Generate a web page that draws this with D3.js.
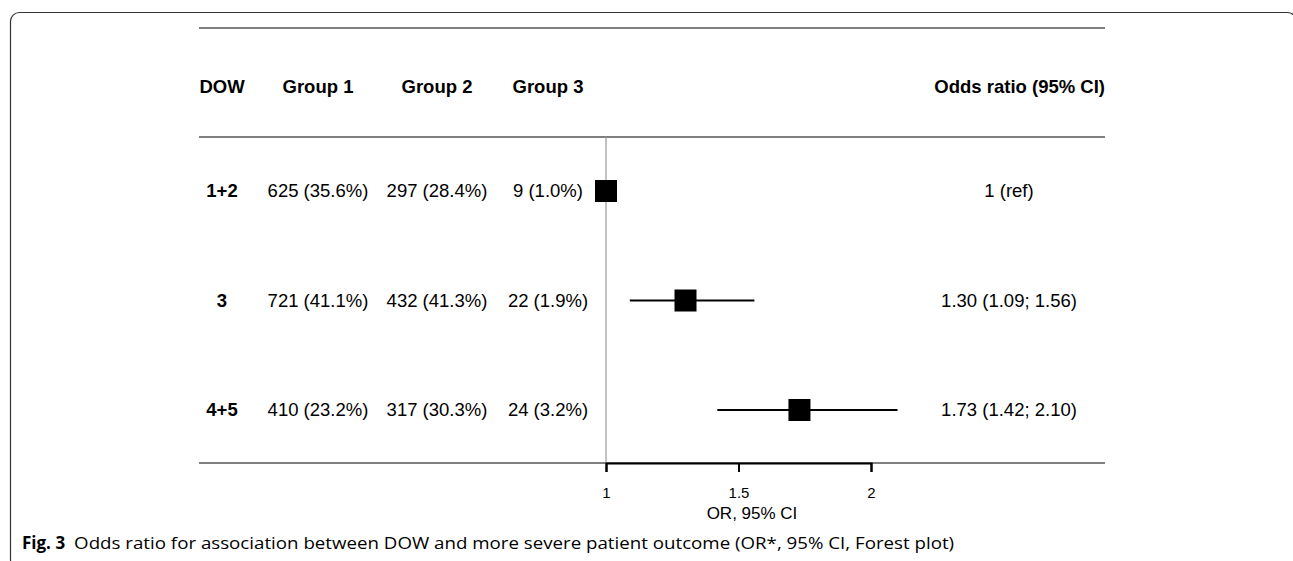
<!DOCTYPE html>
<html>
<head>
<meta charset="utf-8">
<script src="https://cdn.jsdelivr.net/npm/d3@7"></script>
<style>
  body { margin: 0; background: #fff; }
  svg { display: block; }
</style>
</head>
<body>
<svg id="chart" width="1293" height="561"></svg>
<script>
// data
let headers = ["DOW", "Group 1", "Group 2", "Group 3"];
let dow = ["1+2", "3", "4+5"];
let group1 = ["625 (35.6%)", "721 (41.1%)", "410 (23.2%)"];
let group2 = ["297 (28.4%)", "432 (41.3%)", "317 (30.3%)"];
let group3 = ["9 (1.0%)", "22 (1.9%)", "24 (3.2%)"];
let or = [1, 1.30, 1.73];
let lower = [null, 1.09, 1.42];
let upper = [null, 1.56, 2.10];
let orLabels = ["1 (ref)", "1.30 (1.09; 1.56)", "1.73 (1.42; 2.10)"];
let ticks = [1, 1.5, 2];

let svg = d3.select("#chart");
let font = "Arial, 'Liberation Sans', sans-serif";

let left = 199, right = 1105;
let ruleTop = 28, ruleHead = 137, ruleBottom = 463;

let x = d3.scaleLinear().domain([1, 2]).range([606, 871]);
let y = d3.scalePoint().domain(dow).range([191, 410]);

let colX = [222, 318, 437, 548];
let orX = 1009;

// frame (bottom and right edges run off the picture)
svg.append("rect")
  .attr("x", 10.5)
  .attr("y", 12.5)
  .attr("width", 1286)
  .attr("height", 556)
  .attr("rx", 9)
  .attr("fill", "none")
  .attr("stroke", "#333")
  .attr("stroke-width", 1.2);

// horizontal rules
[ruleTop, ruleHead, ruleBottom].forEach(r => {
  svg.append("line")
    .attr("x1", left).attr("x2", right)
    .attr("y1", r).attr("y2", r)
    .attr("stroke", "#555")
    .attr("stroke-width", 1.5);
});

// reference line at OR = 1
svg.append("line")
  .attr("x1", x(1)).attr("x2", x(1))
  .attr("y1", ruleHead).attr("y2", ruleBottom)
  .attr("stroke", "#999")
  .attr("stroke-width", 1.2);

// header
let head = svg.append("g").attr("class", "header")
  .attr("font-family", font)
  .attr("font-size", 18.5)
  .attr("font-weight", "bold")
  .attr("fill", "#000");

head.selectAll("text.col")
  .data(headers)
  .enter()
  .append("text")
  .attr("class", "col")
  .attr("x", (d, i) => colX[i])
  .attr("y", 93)
  .attr("text-anchor", "middle")
  .text(d => d);

head.append("text")
  .attr("x", right)
  .attr("y", 93)
  .attr("text-anchor", "end")
  .text("Odds ratio (95% CI)");

// table rows
let rows = svg.append("g").attr("class", "rows")
  .attr("font-family", font)
  .attr("font-size", 18.5)
  .attr("fill", "#000");

let columns = [dow, group1, group2, group3];
columns.forEach((col, ci) => {
  rows.selectAll(`text.c${ci}`)
    .data(col)
    .enter()
    .append("text")
    .attr("class", `c${ci}`)
    .attr("x", colX[ci])
    .attr("y", (d, i) => y(dow[i]) + 6)
    .attr("text-anchor", "middle")
    .attr("font-weight", ci === 0 ? "bold" : "normal")
    .text(d => d);
});

rows.selectAll("text.or")
  .data(orLabels)
  .enter()
  .append("text")
  .attr("class", "or")
  .attr("x", orX)
  .attr("y", (d, i) => y(dow[i]) + 6)
  .attr("text-anchor", "middle")
  .text(d => d);

// confidence intervals
svg.selectAll("line.ci")
  .data(or.map((d, i) => ({ lo: lower[i], hi: upper[i], k: dow[i] })).filter(d => d.lo != null))
  .enter()
  .append("line")
  .attr("class", "ci")
  .attr("x1", d => x(d.lo))
  .attr("x2", d => x(d.hi))
  .attr("y1", d => y(d.k))
  .attr("y2", d => y(d.k))
  .attr("stroke", "#000")
  .attr("stroke-width", 2.2);

// point estimates
let sq = 22;
svg.selectAll("rect.est")
  .data(or)
  .enter()
  .append("rect")
  .attr("class", "est")
  .attr("x", d => x(d) - sq / 2)
  .attr("y", (d, i) => y(dow[i]) - sq / 2)
  .attr("width", sq)
  .attr("height", sq)
  .attr("fill", "#000");

// x axis
let axis = svg.append("g")
  .attr("transform", `translate(0, ${ruleBottom})`)
  .call(d3.axisBottom(x).tickValues(ticks).tickFormat(d3.format("")).tickSizeOuter(0).tickSize(9).tickPadding(15));

axis.select(".domain").attr("stroke", "#000").attr("stroke-width", 2);
axis.selectAll(".tick line").attr("stroke", "#000").attr("stroke-width", 2);
axis.selectAll(".tick text")
  .attr("font-family", font)
  .attr("font-size", 15)
  .attr("fill", "#000");

svg.append("text")
  .attr("x", 752)
  .attr("y", 519)
  .attr("text-anchor", "middle")
  .attr("font-family", font)
  .attr("font-size", 17)
  .attr("fill", "#000")
  .text("OR, 95% CI");

// caption
let cap = svg.append("text")
  .attr("x", 22)
  .attr("y", 549)
  .attr("font-family", "'Open Sans', sans-serif")
  .attr("font-size", 17)
  .attr("fill", "#000");

cap.append("tspan")
  .attr("font-weight", "bold")
  .text("Fig. 3");

cap.append("tspan")
  .attr("dx", 9)
  .attr("textLength", 880)
  .attr("lengthAdjust", "spacingAndGlyphs")
  .text("Odds ratio for association between DOW and more severe patient outcome (OR*, 95% CI, Forest plot)");
</script>
</body>
</html>
